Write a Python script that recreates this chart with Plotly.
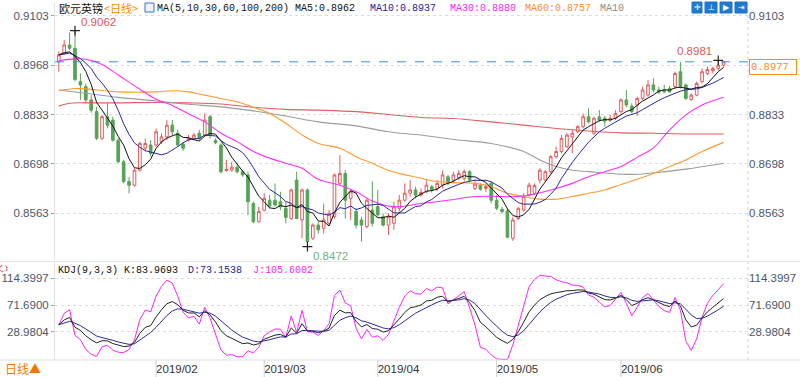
import plotly.graph_objects as go
import pandas as pd

# ---------------- data ----------------
dates = pd.bdate_range("2019-01-08", periods=124)

opens = [0.8977, 0.9000, 0.9023, 0.9014, 0.8923, 0.8909, 0.8873, 0.8841, 0.8768, 0.8827,
         0.8818, 0.8763, 0.8704, 0.8650, 0.8640, 0.8681, 0.8741, 0.8750, 0.8750, 0.8759,
         0.8772, 0.8804, 0.8782, 0.8752, 0.8763, 0.8768, 0.8782, 0.8777, 0.8827, 0.8762,
         0.8750, 0.8680, 0.8681, 0.8689, 0.8677, 0.8668, 0.8590, 0.8540, 0.8572, 0.8599,
         0.8599, 0.8595, 0.8577, 0.8549, 0.8654, 0.8545, 0.8627, 0.8495, 0.8531, 0.8522,
         0.8536, 0.8554, 0.8645, 0.8672, 0.8604, 0.8568, 0.8545, 0.8527, 0.8572, 0.8581,
         0.8554, 0.8531, 0.8536, 0.8577, 0.8599, 0.8618, 0.8627, 0.8613, 0.8622, 0.8636,
         0.8631, 0.8640, 0.8663, 0.8654, 0.8659, 0.8659, 0.8677, 0.8631, 0.8640, 0.8631,
         0.8645, 0.8599, 0.8574, 0.8570, 0.8495, 0.8549, 0.8572, 0.8613, 0.8618, 0.8654,
         0.8654, 0.8677, 0.8718, 0.8732, 0.8745, 0.8772, 0.8786, 0.8800, 0.8827, 0.8782,
         0.8827, 0.8823, 0.8818, 0.8823, 0.8841, 0.8873, 0.8856, 0.8859, 0.8877, 0.8886,
         0.8914, 0.8900, 0.8900, 0.8904, 0.8909, 0.8950, 0.8914, 0.8874, 0.8886, 0.8923,
         0.8945, 0.8953, 0.8959, 0.8968]

highs = [0.9005, 0.9037, 0.9057, 0.9062, 0.8945, 0.8918, 0.8886, 0.8854, 0.8832, 0.8864,
         0.8827, 0.8768, 0.8709, 0.8663, 0.8686, 0.8759, 0.8768, 0.8763, 0.8795, 0.8782,
         0.8818, 0.8818, 0.8791, 0.8759, 0.8777, 0.8783, 0.8791, 0.8836, 0.8832, 0.8768,
         0.8754, 0.8709, 0.8704, 0.8700, 0.8681, 0.8677, 0.8595, 0.8581, 0.8618, 0.8613,
         0.8645, 0.8622, 0.8595, 0.8631, 0.8677, 0.8631, 0.8631, 0.8536, 0.8540, 0.8590,
         0.8572, 0.8672, 0.8722, 0.8681, 0.8627, 0.8577, 0.8554, 0.8604, 0.8650, 0.8627,
         0.8563, 0.8563, 0.8595, 0.8613, 0.8645, 0.8654, 0.8636, 0.8631, 0.8654, 0.8640,
         0.8654, 0.8680, 0.8668, 0.8677, 0.8681, 0.8683, 0.8681, 0.8656, 0.8645, 0.8645,
         0.8650, 0.8613, 0.8581, 0.8577, 0.8554, 0.8581, 0.8618, 0.8647, 0.8645, 0.8686,
         0.8681, 0.8722, 0.8745, 0.8777, 0.8782, 0.8791, 0.8804, 0.8836, 0.8850, 0.8827,
         0.8845, 0.8829, 0.8832, 0.8845, 0.8877, 0.8900, 0.8864, 0.8882, 0.8909, 0.8927,
         0.8932, 0.8909, 0.8914, 0.8911, 0.8950, 0.8977, 0.8918, 0.8891, 0.8923, 0.8959,
         0.8964, 0.8964, 0.8981, 0.8978]

lows = [0.8950, 0.8996, 0.9009, 0.8923, 0.8873, 0.8864, 0.8838, 0.8763, 0.8763, 0.8795,
        0.8759, 0.8700, 0.8645, 0.8618, 0.8636, 0.8677, 0.8732, 0.8718, 0.8745, 0.8752,
        0.8763, 0.8777, 0.8745, 0.8734, 0.8759, 0.8763, 0.8762, 0.8772, 0.8768, 0.8752,
        0.8672, 0.8677, 0.8677, 0.8672, 0.8663, 0.8559, 0.8536, 0.8538, 0.8568, 0.8577,
        0.8581, 0.8572, 0.8536, 0.8545, 0.8547, 0.8495, 0.8472, 0.8490, 0.8508, 0.8508,
        0.8531, 0.8549, 0.8640, 0.8549, 0.8545, 0.8522, 0.8486, 0.8522, 0.8527, 0.8554,
        0.8527, 0.8504, 0.8518, 0.8568, 0.8595, 0.8609, 0.8604, 0.8609, 0.8618, 0.8620,
        0.8625, 0.8631, 0.8640, 0.8645, 0.8654, 0.8650, 0.8650, 0.8627, 0.8625, 0.8622,
        0.8590, 0.8572, 0.8563, 0.8495, 0.8488, 0.8545, 0.8568, 0.8609, 0.8613, 0.8645,
        0.8650, 0.8672, 0.8713, 0.8727, 0.8741, 0.8727, 0.8782, 0.8795, 0.8809, 0.8777,
        0.8813, 0.8800, 0.8813, 0.8818, 0.8836, 0.8853, 0.8836, 0.8829, 0.8873, 0.8882,
        0.8893, 0.8889, 0.8891, 0.8893, 0.8904, 0.8904, 0.8873, 0.8871, 0.8883, 0.8918,
        0.8941, 0.8945, 0.8954, 0.8964]

closes = [0.8996, 0.9023, 0.9014, 0.8929, 0.8914, 0.8873, 0.8845, 0.8768, 0.8827, 0.8804,
          0.8763, 0.8704, 0.8650, 0.8640, 0.8681, 0.8754, 0.8754, 0.8727, 0.8786, 0.8772,
          0.8804, 0.8786, 0.8750, 0.8741, 0.8768, 0.8777, 0.8768, 0.8818, 0.8777, 0.8756,
          0.8677, 0.8683, 0.8689, 0.8677, 0.8668, 0.8595, 0.8540, 0.8568, 0.8604, 0.8583,
          0.8586, 0.8581, 0.8552, 0.8627, 0.8549, 0.8627, 0.8486, 0.8531, 0.8518, 0.8545,
          0.8563, 0.8668, 0.8672, 0.8599, 0.8622, 0.8531, 0.8531, 0.8599, 0.8536, 0.8559,
          0.8531, 0.8554, 0.8581, 0.8599, 0.8618, 0.8627, 0.8613, 0.8620, 0.8640, 0.8627,
          0.8645, 0.8668, 0.8645, 0.8668, 0.8672, 0.8677, 0.8654, 0.8643, 0.8629, 0.8636,
          0.8599, 0.8577, 0.8568, 0.8498, 0.8545, 0.8577, 0.8609, 0.8640, 0.8639, 0.8681,
          0.8677, 0.8718, 0.8732, 0.8768, 0.8777, 0.8782, 0.8800, 0.8827, 0.8813, 0.8823,
          0.8818, 0.8815, 0.8823, 0.8836, 0.8873, 0.8859, 0.8841, 0.8877, 0.8900, 0.8914,
          0.8900, 0.8894, 0.8895, 0.8895, 0.8945, 0.8909, 0.8877, 0.8886, 0.8918, 0.8950,
          0.8956, 0.8959, 0.8968, 0.8977]

# the nine sessions just before the visible window (needed by MA5 / MA10 / KDJ)
prior_closes = [0.8990, 0.8995, 0.9000, 0.8992, 0.8998, 0.8995, 0.9002, 0.8990, 0.8998]
prior_highs = [0.9020, 0.9040, 0.9065, 0.9050, 0.9030, 0.9020, 0.9030, 0.9015, 0.9020]
prior_lows = [0.8955, 0.8965, 0.8975, 0.8970, 0.8960, 0.8965, 0.8970, 0.8955, 0.8960]
kdj_start = 40.0

# long moving averages at selected candles
ma30_idx = [0, 3, 5, 8, 11, 15, 18, 21, 24, 27, 30, 33, 36, 39, 42, 45, 48, 52, 55, 58, 62,
            67, 72, 77, 80, 85, 88, 92, 95, 98, 101, 104, 107, 110, 113, 116, 119, 123]
ma30_val = [0.8980, 0.8985, 0.8984, 0.8970, 0.8941, 0.8902, 0.8875, 0.8858, 0.8835, 0.8813,
            0.8782, 0.8759, 0.8732, 0.8714, 0.8700, 0.8686, 0.8656, 0.8640, 0.8622, 0.8597,
            0.8581, 0.8590, 0.8599, 0.8609, 0.8610, 0.8609, 0.8616, 0.8631, 0.8645, 0.8663,
            0.8677, 0.8691, 0.8716, 0.8742, 0.8791, 0.8832, 0.8859, 0.8880]

ma60_idx = [0, 3, 5, 11, 18, 21, 24, 27, 30, 33, 36, 39, 42, 45, 48, 52, 55, 58, 61, 67,
            70, 73, 77, 80, 83, 86, 89, 92, 95, 98, 101, 104, 107, 110, 113, 116, 119, 123]
ma60_val = [0.8898, 0.8904, 0.8903, 0.8895, 0.8895, 0.8898, 0.8895, 0.8886, 0.8877, 0.8868,
            0.8853, 0.8836, 0.8809, 0.8777, 0.8754, 0.8741, 0.8718, 0.8700, 0.8680, 0.8659,
            0.8650, 0.8647, 0.8645, 0.8636, 0.8618, 0.8609, 0.8602, 0.8602, 0.8609, 0.8618,
            0.8627, 0.8642, 0.8656, 0.8672, 0.8691, 0.8709, 0.8732, 0.8757]

ma100_idx = [0, 5, 11, 18, 24, 30, 36, 42, 48, 55, 61, 67, 73, 80, 86, 89, 92, 95, 98,
             104, 107, 110, 116, 123]
ma100_val = [0.8900, 0.8891, 0.8880, 0.8870, 0.8861, 0.8854, 0.8843, 0.8829, 0.8813, 0.8802,
             0.8786, 0.8777, 0.8765, 0.8754, 0.8732, 0.8709, 0.8691, 0.8681, 0.8677, 0.8670,
             0.8670, 0.8674, 0.8684, 0.8700]

ma200_idx = [0, 2, 5, 11, 18, 24, 30, 36, 42, 48, 55, 61, 67, 73, 80, 86, 92, 98, 104,
             110, 116, 123]
ma200_val = [0.8856, 0.8864, 0.8865, 0.8865, 0.8866, 0.8865, 0.8862, 0.8853, 0.8847, 0.8845,
             0.8841, 0.8833, 0.8825, 0.8822, 0.8813, 0.8804, 0.8795, 0.8788, 0.8783, 0.8782,
             0.8780, 0.8780]

last_price = 0.8977
tick_labels = ["2019/02", "2019/03", "2019/04", "2019/05", "2019/06"]
price_ticks = [0.9103, 0.8968, 0.8833, 0.8698, 0.8563]
kdj_ticks = [114.3997, 71.6900, 28.9804]

# ---------------- derived series ----------------
n = len(closes)
npre = len(prior_closes)
xs = list(range(n))
allc = pd.Series(prior_closes + closes)
allh = pd.Series(prior_highs + highs)
alll = pd.Series(prior_lows + lows)
ma5 = allc.rolling(5).mean().iloc[npre:].tolist()
ma10 = allc.rolling(10).mean().iloc[npre:].tolist()

hh = allh.rolling(9, min_periods=1).max().iloc[npre:].tolist()
ll = alll.rolling(9, min_periods=1).min().iloc[npre:].tolist()
rsv = [(c - lo) / (hi - lo) * 100 for c, hi, lo in zip(closes, hh, ll)]
K, D = [], []
k = d = kdj_start
for r in rsv:
    k = (2 * k + r) / 3
    d = (2 * d + k) / 3
    K.append(k)
    D.append(d)
J = [3 * a - 2 * b for a, b in zip(K, D)]

month_starts = []
for m in ["2019-02", "2019-03", "2019-04", "2019-05", "2019-06"]:
    month_starts.append(int((dates < pd.Timestamp(m + "-01")).sum()))

# ---------------- geometry ----------------
W, H = 800, 377
PL, PR, PT, PB = 55, 748, 2, 360


def pxx(p):
    return (p - PL) / (PR - PL)


def pyy(p):
    return (PB - p) / (PB - PT)


MAIN_RANGE = [0.84357, 0.91404]
KDJ_RANGE = [-16.3, 139.7]
XR = [-0.7, 127.5]

fig = go.Figure()
fig.add_trace(go.Candlestick(
    x=xs, open=opens, high=highs, low=lows, close=closes,
    increasing=dict(line=dict(color="#e65a5c", width=1), fillcolor="#ffffff"),
    decreasing=dict(line=dict(color="#56a356", width=1), fillcolor="#56a356"),
    whiskerwidth=0, showlegend=False, hoverinfo="skip", xaxis="x", yaxis="y"))

for idx, val, col in [(ma200_idx, ma200_val, "#e06060"),
                      (ma100_idx, ma100_val, "#9c9c9c"),
                      (ma60_idx, ma60_val, "#ff9a33"),
                      (ma30_idx, ma30_val, "#ff2dff")]:
    fig.add_trace(go.Scatter(x=idx, y=val, mode="lines",
                             line=dict(color=col, width=1.1, shape="spline", smoothing=1.0),
                             showlegend=False, hoverinfo="skip", xaxis="x", yaxis="y"))
fig.add_trace(go.Scatter(x=xs, y=ma10, mode="lines", line=dict(color="#2a2a9c", width=1),
                         showlegend=False, hoverinfo="skip", xaxis="x", yaxis="y"))
fig.add_trace(go.Scatter(x=xs, y=ma5, mode="lines", line=dict(color="#111111", width=1),
                         showlegend=False, hoverinfo="skip", xaxis="x", yaxis="y"))

# extreme markers
fig.add_trace(go.Scatter(x=[3, 46, 122], y=[highs[3], lows[46], highs[122]], mode="markers",
                         marker=dict(symbol="cross-thin", size=7, line=dict(color="#222", width=1.2)),
                         showlegend=False, hoverinfo="skip", xaxis="x", yaxis="y"))

# KDJ
fig.add_trace(go.Scatter(x=xs, y=J, mode="lines", line=dict(color="#ff22ff", width=1),
                         showlegend=False, hoverinfo="skip", xaxis="x2", yaxis="y2"))
fig.add_trace(go.Scatter(x=xs, y=D, mode="lines", line=dict(color="#2a2a9c", width=1),
                         showlegend=False, hoverinfo="skip", xaxis="x2", yaxis="y2"))
fig.add_trace(go.Scatter(x=xs, y=K, mode="lines", line=dict(color="#222222", width=1),
                         showlegend=False, hoverinfo="skip", xaxis="x2", yaxis="y2"))

# invisible traces for right-hand axes
fig.add_trace(go.Scatter(x=[0], y=[price_ticks[0]], mode="markers", marker=dict(opacity=0),
                         showlegend=False, hoverinfo="skip", xaxis="x", yaxis="y3"))
fig.add_trace(go.Scatter(x=[0], y=[kdj_ticks[0]], mode="markers", marker=dict(opacity=0),
                         showlegend=False, hoverinfo="skip", xaxis="x2", yaxis="y4"))

tickfont = dict(family="Liberation Sans, Arial", size=11.5, color="#4b566b")
main_dom = [pyy(260), 1.0]
kdj_dom = [0.0, pyy(262.5)]

fig.update_layout(
    width=W, height=H, margin=dict(l=PL, r=W - PR, t=PT, b=H - PB),
    paper_bgcolor="white", plot_bgcolor="white",
    xaxis=dict(domain=[0, 1], anchor="y", range=XR, showticklabels=False, showgrid=False,
               zeroline=False, showline=False, fixedrange=True, rangeslider=dict(visible=False)),
    xaxis2=dict(domain=[0, 1], anchor="y2", range=XR, showgrid=False, zeroline=False,
                tickvals=month_starts, ticktext=tick_labels, ticks="",
                ticklabelposition="outside right",
                tickfont=dict(family="Liberation Sans, Arial", size=11.5, color="#333333"),
                showline=False, fixedrange=True),
    yaxis=dict(domain=main_dom, anchor="x", range=MAIN_RANGE, tickvals=price_ticks,
               ticktext=["%.4f" % v for v in price_ticks], ticks="outside", ticklen=3,
               tickcolor="#9aa0aa", tickfont=tickfont, showgrid=True, gridcolor="#dcdcdc",
               griddash="dot", zeroline=False, showline=True, linecolor="#e2e2e2", fixedrange=True),
    yaxis3=dict(overlaying="y", side="right", anchor="x", range=MAIN_RANGE, tickvals=price_ticks,
                ticktext=["%.4f" % v for v in price_ticks], ticks="", tickfont=tickfont,
                showgrid=False, zeroline=False, showline=False, fixedrange=True),
    yaxis2=dict(domain=kdj_dom, anchor="x2", range=KDJ_RANGE, tickvals=kdj_ticks,
                ticktext=["%.4f" % v for v in kdj_ticks], ticks="outside", ticklen=3,
                tickcolor="#9aa0aa", tickfont=tickfont, showgrid=True, gridcolor="#dcdcdc",
                griddash="dot", zeroline=False, showline=True, linecolor="#e2e2e2", fixedrange=True),
    yaxis4=dict(overlaying="y2", side="right", anchor="x2", range=KDJ_RANGE, tickvals=kdj_ticks,
                ticktext=["%.4f" % v for v in kdj_ticks], ticks="", tickfont=tickfont,
                showgrid=False, zeroline=False, showline=False, fixedrange=True),
)

shapes = []
shapes.append(dict(type="line", xref="paper", yref="y", x0=0, x1=1, y0=last_price, y1=last_price,
                   line=dict(color="#2f8ff0", width=1, dash="dash")))
shapes.append(dict(type="line", xref="paper", yref="paper", x0=1, x1=1, y0=0, y1=1,
                   line=dict(color="#cfcfcf", width=1, dash="dot")))
shapes.append(dict(type="line", xref="paper", yref="paper", x0=pxx(0), x1=pxx(800),
                   y0=pyy(261.5), y1=pyy(261.5), line=dict(color="#e6e6e6", width=1)))
shapes.append(dict(type="line", xref="paper", yref="paper", x0=pxx(0), x1=pxx(800),
                   y0=0, y1=0, line=dict(color="#dddddd", width=1)))
for t in month_starts:
    shapes.append(dict(type="line", xref="x2", yref="paper", x0=t, x1=t, y0=0, y1=pyy(377),
                       line=dict(color="#d0d0d0", width=1)))
shapes.append(dict(type="rect", xref="paper", yref="paper", x0=pxx(145), x1=pxx(154),
                   y0=pyy(12), y1=pyy(3), line=dict(color="#3a6fd0", width=1), fillcolor="#eef3ff"))
for a, b in [(692, 702), (705, 717), (720, 732), (735, 747)]:
    shapes.append(dict(type="rect", xref="paper", yref="paper", x0=pxx(a), x1=pxx(b),
                       y0=pyy(13), y1=pyy(2), line=dict(color="#1b73c8", width=1), fillcolor="#1f7bd0"))
shapes.append(dict(type="circle", xref="paper", yref="paper", x0=pxx(0), x1=pxx(7),
                   y0=pyy(272), y1=pyy(265), line=dict(color="#e03030", width=1, dash="dot")))
fig.update_layout(shapes=shapes)

ann = []
mono = "Liberation Mono, DejaVu Sans Mono, monospace"
cjk = "Noto Sans CJK SC"


def label(x, y, text, color, family=mono, size=10, **kw):
    d = dict(xref="paper", yref="paper", x=pxx(x), y=pyy(y), text=text, showarrow=False,
             xanchor="left", yanchor="middle", font=dict(family=family, size=size, color=color))
    d.update(kw)
    ann.append(d)


label(57, 8, "欧元英镑", "#111111", family=cjk, size=11)
label(102, 8, "&lt;日线&gt;", "#ff8a00", family=cjk, size=11)
label(155, 8, "MA(5,10,30,60,100,200)", "#111111")
label(293, 8, "MA5:0.8962", "#111111")
label(368, 8, "MA10:0.8937", "#2222a0")
label(448, 8, "MA30:0.8880", "#ff22ff")
label(523, 8, "MA60:0.8757", "#ff8a1a")
label(598, 8, "MA10", "#8a8a8a")

# white glyphs on the toolbar buttons
for cx, g in [(697, "✛"), (711, "⊥"), (726, "▶"), (741, "⇥")]:
    ann.append(dict(xref="paper", yref="paper", x=pxx(cx), y=pyy(7.5), text=g, showarrow=False,
                    xanchor="center", yanchor="middle",
                    font=dict(family="DejaVu Sans", size=8, color="#ffffff")))

label(56, 270, "KDJ(9,3,3) K:83.9693", "#111111")
label(186, 270, "D:73.1538", "#2222a0")
label(251, 270, "J:105.6002", "#ff22ff")

label(3, 368, "日线▲", "#f07800", family=cjk, size=12)
label(749, 67, "0.8977 ", "#ff8a1a", family=mono, size=10.5, bordercolor="#ff8a1a",
      borderwidth=1, bgcolor="#ffffff", borderpad=1)

ann.append(dict(xref="x", yref="y", x=3, y=highs[3], text="0.9062", showarrow=False,
                xanchor="left", yanchor="bottom", xshift=4, yshift=1,
                font=dict(family="Liberation Sans, Arial", size=11.5, color="#e05858")))
ann.append(dict(xref="x", yref="y", x=122, y=highs[122], text="0.8981", showarrow=False,
                xanchor="right", yanchor="bottom", xshift=-4, yshift=1,
                font=dict(family="Liberation Sans, Arial", size=11.5, color="#e05858")))
ann.append(dict(xref="x", yref="y", x=46, y=lows[46], text="0.8472", showarrow=False,
                xanchor="left", yanchor="top", xshift=4, yshift=-1,
                font=dict(family="Liberation Sans, Arial", size=11.5, color="#72b07a")))
fig.update_layout(annotations=ann)

# remove the browser's default 8px body margin so the figure sits at the page origin
fig.write_html("out.html", config={"displayModeBar": False},
               post_script="document.body.style.margin='0';")
